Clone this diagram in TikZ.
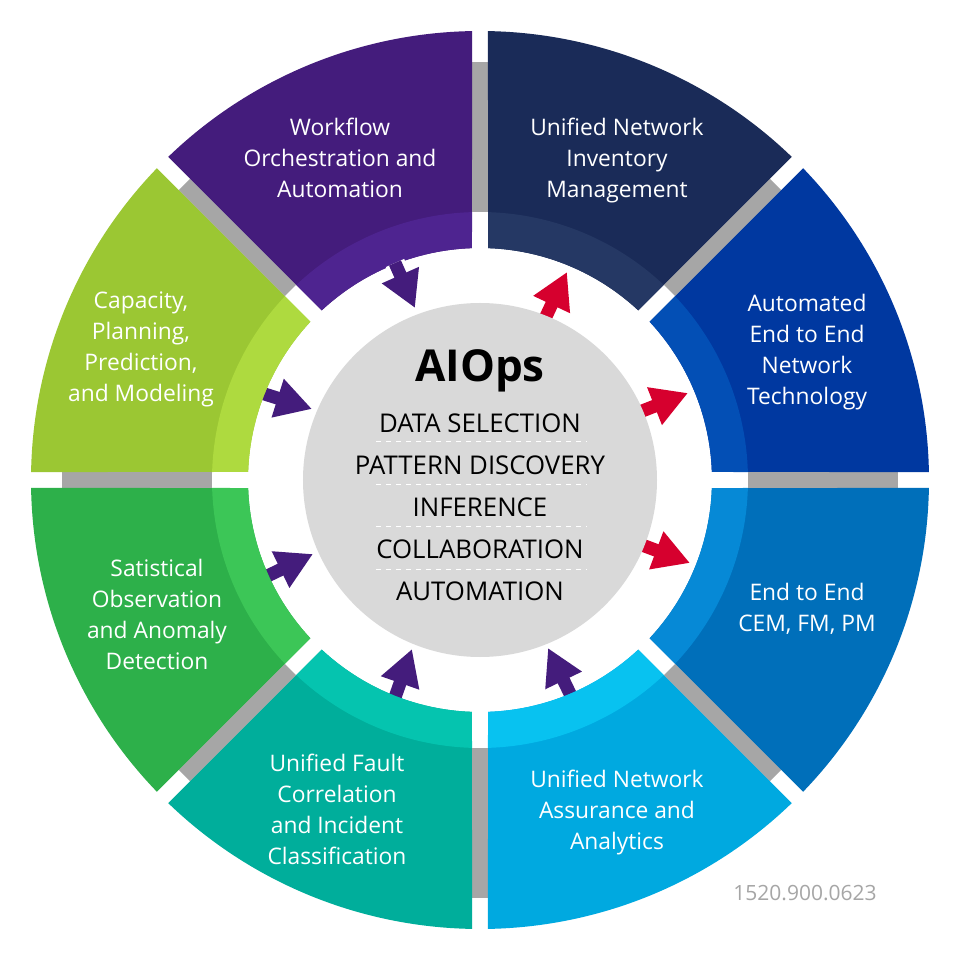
\documentclass[tikz,border=0pt]{standalone}
\usepackage{fontspec}
\setmainfont{Open Sans}
\usetikzlibrary{arrows.meta}
\definecolor{flowdark}{HTML}{441C7C}
\definecolor{flowlight}{HTML}{4E2490}
\definecolor{invdark}{HTML}{1A2B58}
\definecolor{invlight}{HTML}{253864}
\definecolor{autodark}{HTML}{0038A0}
\definecolor{autolight}{HTML}{034FB5}
\definecolor{cemdark}{HTML}{006FBA}
\definecolor{cemlight}{HTML}{0689D6}
\definecolor{assdark}{HTML}{00A9E0}
\definecolor{asslight}{HTML}{08C2F0}
\definecolor{faultdark}{HTML}{00AE9B}
\definecolor{faultlight}{HTML}{05C4AF}
\definecolor{statdark}{HTML}{2DB04A}
\definecolor{statlight}{HTML}{3CC657}
\definecolor{capdark}{HTML}{9BC733}
\definecolor{caplight}{HTML}{AEDA3F}
\definecolor{spokegrey}{HTML}{A6A6A6}
\definecolor{hubgrey}{HTML}{D9D9D9}
\definecolor{arrowred}{HTML}{D6002E}
\begin{document}
\begin{tikzpicture}[x=1pt,y=1pt,
  seg label/.style={text=white,align=center,font=\fontsize{22.8}{31}\selectfont,inner sep=0pt},
  hub label/.style={text=black,font=\fontsize{25.8}{30}\selectfont,inner sep=0pt},
  red arrow/.style={-{Triangle[length=36pt,width=38pt]},line width=13pt,draw=arrowred},
  purple arrow/.style={-{Triangle[length=36pt,width=38pt]},line width=13pt,draw=flowdark},
  arrow halo/.style={line width=20pt,draw=white,shorten >=36pt}]
\useasboundingbox (-480,-480) rectangle (480,480);
\fill[white] (-480,-480) rectangle (480,480);
% arrows
\coordinate (r1s) at (61.5,154);
\coordinate (r1t) at (87,208);
\coordinate (r2s) at (152,65);
\coordinate (r2t) at (208,87);
\coordinate (r3s) at (154,-62);
\coordinate (r3t) at (210,-83);
\coordinate (p1s) at (-85,217);
\coordinate (p1t) at (-65,172);
\coordinate (p2s) at (-225,89);
\coordinate (p2t) at (-168,71);
\coordinate (p3s) at (-221,-100);
\coordinate (p3t) at (-167,-74);
\coordinate (p4s) at (-88,-226);
\coordinate (p4t) at (-68,-169);
\coordinate (p5s) at (94,-222);
\coordinate (p5t) at (68,-168);
\foreach \a in {r1,r2,r3}
  \draw[red arrow] (\a s) -- (\a t);
\foreach \a in {p2,p3,p4,p5}
  \draw[purple arrow] (\a s) -- (\a t);
% grey spokes
\foreach \ang in {0,45,...,315}
  \draw[spokegrey,line width=16pt] (\ang:268) -- (\ang:418);
% segments
\foreach \rot/\dark/\light in {0/autodark/autolight,45/invdark/invlight,90/flowdark/flowlight,135/capdark/caplight,180/statdark/statlight,225/faultdark/faultlight,270/assdark/asslight,315/cemdark/cemlight}{
\begin{scope}[rotate=\rot]
\fill[\dark] (1.02:449) arc[start angle=1.02,end angle=43.98,radius=449] -- (43.02:232) arc[start angle=43.02,end angle=1.98,radius=232] -- cycle;
\fill[\light] (1.71:268) arc[start angle=1.71,end angle=43.29,radius=268] -- (43.02:232) arc[start angle=43.02,end angle=1.98,radius=232] -- cycle;
\end{scope}
}
\draw[arrow halo] (p1s) -- (p1t);
\draw[purple arrow] (p1s) -- (p1t);
% hub
\fill[hubgrey] (0,0) circle[radius=177];
\foreach \y in {39,-4,-46,-89}
  \draw[white,line width=.8pt,dash pattern=on 5pt off 5pt] (-104,\y) -- (107,\y);
\node[text=black,font=\fontsize{44}{48}\selectfont\bfseries,inner sep=0pt] (aiops) at (0,109) {AIOps};
\node[hub label] (selection) at (0,57) {DATA SELECTION};
\node[hub label] (pattern) at (0,15) {PATTERN DISCOVERY};
\node[hub label] (inference) at (0,-27) {INFERENCE};
\node[hub label] (collab) at (0,-69) {COLLABORATION};
\node[hub label] (automation) at (0,-111) {AUTOMATION};
% segment labels
\node[seg label] (workflow) at (-140,322) {Workflow\\Orchestration and\\Automation};
\node[seg label] (inventory) at (137,319) {Unified Network\\Inventory\\Management};
\node[seg label] (automated) at (327,127.5) {Automated\\End to End\\Network\\Technology};
\node[seg label] (cem) at (327,-129) {End to End\\CEM, FM, PM};
\node[seg label] (assurance) at (137,-333) {Unified Network\\Assurance and\\Analytics};
\node[seg label] (fault) at (-143,-329.5) {Unified Fault\\Correlation\\and Incident\\Classification};
\node[seg label] (statistical) at (-323,-134.5) {Satistical\\Observation\\and Anomaly\\Detection};
\node[seg label] (capacity) at (-339,130.5) {Capacity,\\Planning,\\Prediction,\\and Modeling};
\node[text=spokegrey,font=\fontsize{21}{26}\selectfont,inner sep=0pt] (partno) at (325,-413) {1520.900.0623};
\end{tikzpicture}
\end{document}
